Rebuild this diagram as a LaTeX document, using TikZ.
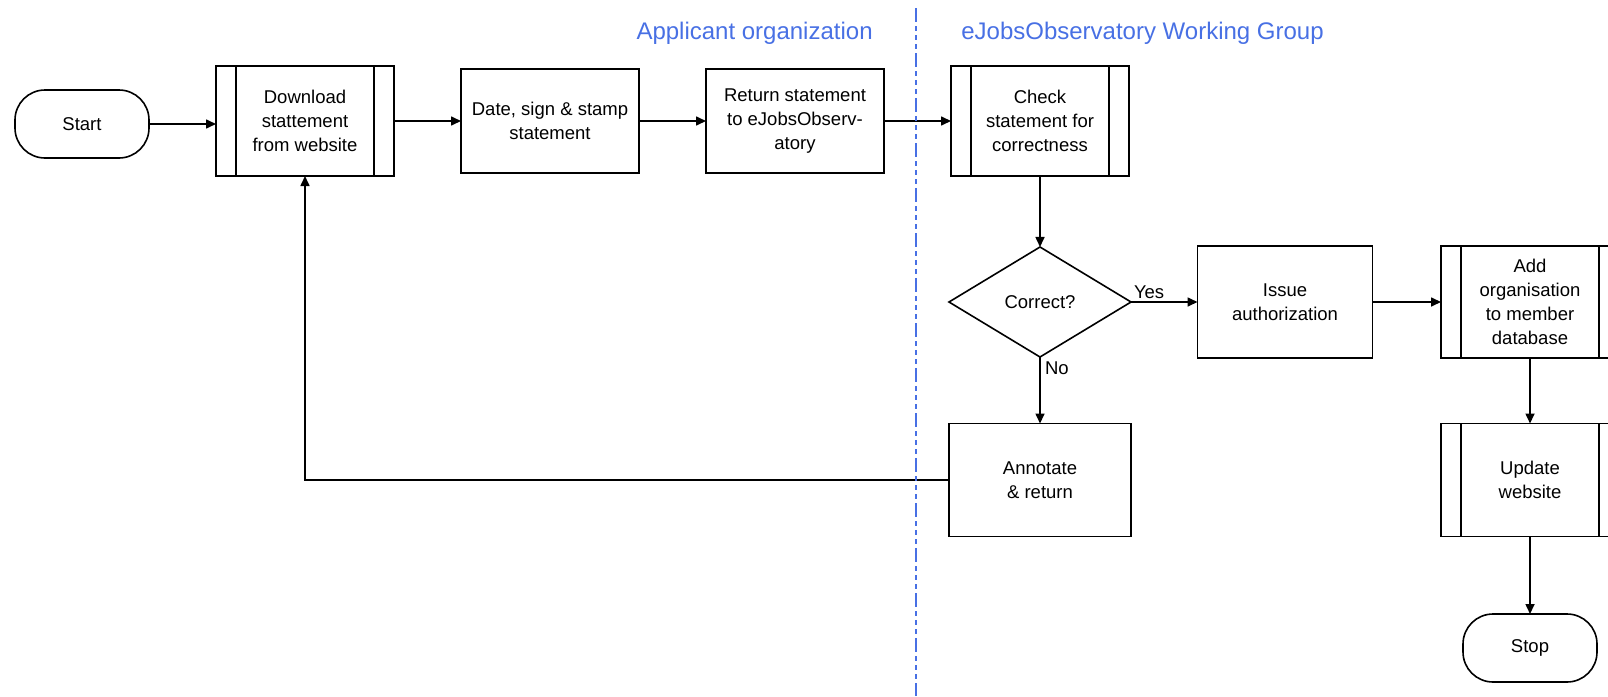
\documentclass[tikz,border=0pt]{standalone}
\usepackage{fontspec}
\setmainfont{Liberation Sans}
\usetikzlibrary{arrows.meta, positioning, shapes.geometric}
\definecolor{laneblue}{RGB}{72,112,228}
\NewDocumentCommand{\lanefont}{}{\fontsize{24}{28}\selectfont}

\begin{document}
\begin{tikzpicture}[x=1pt,y=1pt,node distance=245pt,on grid,>={Triangle[length=10pt,width=9pt]},
        line width=1.6pt,
        every node/.style={font=\fontsize{18.5}{24}\selectfont,align=center,outer sep=0pt},
        proc/.style={draw,fill=white,minimum width=178pt,minimum height=104pt,inner sep=2pt},
        predef/.style={proc,minimum height=110pt},
        terminal/.style={draw,fill=white,rounded corners=30pt,minimum width=134pt,minimum height=68pt},
        decision/.style={draw,fill=white,diamond,minimum width=182pt,minimum height=110pt,inner sep=0pt}]
    \useasboundingbox (0,0) rectangle (1608,-696);
    \clip (0,0) rectangle (1608,-696);

      \node[terminal] (t_start) at (82,-124) {Start};
      \node[predef]   (p_dl)    at (305,-121) {Download\\stattement\\from website};
      \node[proc]     (p_date)  [right=of p_dl]   {Date, sign \& stamp\\statement};
      \node[proc]     (p_ret)   [right=of p_date] {Return statement\\to eJobsObserv-\\atory};
      \node[predef]   (p_chk)   [right=of p_ret]  {Check\\statement for\\correctness};
      \node[decision] (d_ok)    [below=181pt of p_chk] {Correct?};
      \node[proc,minimum width=182pt,minimum height=113pt] (p_ann) [below=178pt of d_ok] {Annotate\\\& return};
      \node[proc,minimum width=175pt,minimum height=112pt] (p_iss) [right=of d_ok] {Issue\\authorization};
      \node[predef,minimum height=112pt] (p_add) [right=of p_iss] {Add\\organisation\\to member\\database};
      \node[predef,minimum height=113pt] (p_upd) [below=178pt of p_add] {Update\\website};
      \node[terminal] (t_stop)  [below=168pt of p_upd] {Stop};

      % side bars of the predefined processes
      \foreach \n in {p_dl,p_chk,p_add,p_upd}
        \draw ([xshift=20pt]\n.north west) -- ([xshift=20pt]\n.south west)
              ([xshift=-20pt]\n.north east) -- ([xshift=-20pt]\n.south east);

      \node[font=\lanefont,text=laneblue,anchor=east] (h_app) at (876,-33) {Applicant organization};
      \node[font=\lanefont,text=laneblue,anchor=west] (h_ejo) at (958,-33) {eJobsObservatory Working Group};

      \draw[->] (t_start) -- (t_start -| p_dl.west);
      \draw[->] (p_dl) -- (p_date);
      \draw[->] (p_date) -- (p_ret);
      \draw[->] (p_ret) -- (p_chk);
      \draw[->] (p_chk) -- (d_ok);
      \draw[->] (d_ok) -- node[pos=0,anchor=south west,inner sep=3pt] {Yes} (p_iss);
      \draw[->] (d_ok) -- node[pos=0,anchor=north west,inner sep=5pt] {No} (p_ann);
      \draw[->] (p_iss) -- (p_add);
      \draw[->] (p_add) -- (p_upd);
      \draw[->] (p_upd) -- (t_stop);
      \draw[->] (p_ann.west) -| (p_dl.south);

      % swimlane border
      \coordinate (lane_top) at (916,-8);
      \coordinate (lane_bot) at (916,-696);
      \draw[laneblue,line width=1.8pt,dash pattern=on 14pt off 4pt on 5pt off 4pt on 5pt off 4pt on 5pt off 4pt] (lane_top) -- (lane_bot);
    \end{tikzpicture}
\end{document}
